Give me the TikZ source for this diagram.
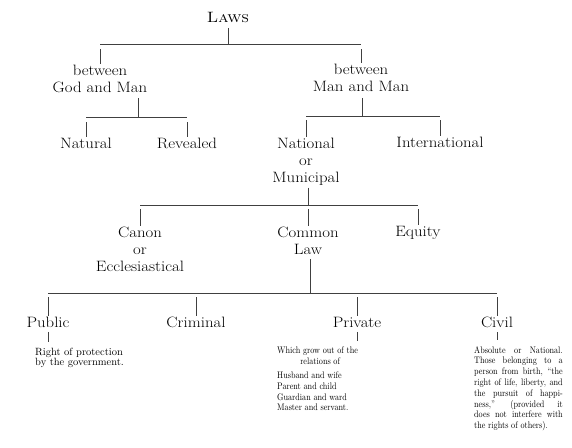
\documentclass[tikz,border=0pt]{standalone}
\usepackage{amsmath}

\tikzset{%
  lbl/.style={font=\fontsize{15}{17}\selectfont, align=center, inner sep=1pt,
    xscale=1.12, transform shape, anchor=north},
  note/.style={font=\fontsize{9.5}{10.8}\selectfont, inner sep=0pt, anchor=north west,
    xscale=0.86, transform shape},
  rule/.style={line width=0.5pt, black!75},
}

\begin{document}
\begin{tikzpicture}[x=1pt,y=-1pt]%
\useasboundingbox (0,0) rectangle (572,447);%
% the heads
\node[lbl] (laws) at (228,11) {\textsc{Laws}};
\node[lbl] (godman) at (100,64) {between\\God and Man};
\node[lbl] (manman) at (361,63) {between\\Man and Man};
\node[lbl] (natural) at (86,137) {Natural};
\node[lbl] (revealed) at (187,137) {Revealed};
\node[lbl] (national) at (306,137) {National\\or\\Municipal};
\node[lbl] (internat) at (440,136) {International};
\node[lbl] (canon) at (140,226) {Canon\\or\\Ecclesiastical};
\node[lbl] (common) at (308,226) {Common\\Law};
\node[lbl] (equity) at (418,225) {Equity};
\node[lbl] (public) at (48,316) {Public};
\node[lbl] (criminal) at (196,316) {Criminal};
\node[lbl] (private) at (357,316) {Private};
\node[lbl] (civil) at (497,316) {Civil};
% the notes
\node[note, font=\fontsize{10.5}{10}\selectfont, xscale=1/0.86, text width=95pt, align=left]
  (pubnote) at (35,348) {Right of protection\\by the government.};
\node[note, text width=100pt, align=left] (privnote) at (277,347)
  {Which grow out of the\\\makebox[100pt]{relations of}\\[3pt]Husband and wife\\Parent and child\\Guardian and ward\\Master and servant.};
\node[note, text width=103pt, align=justify] (civnote) at (474,346)
  {Absolute or National.\linebreak Those belonging to a\linebreak person from birth, ``the\linebreak right of life, liberty, and\linebreak the pursuit of happi-\linebreak ness,'' (provided it\linebreak does not interfere with\linebreak the rights of others).};
% the rules
\coordinate (bar1) at (228,44);
\coordinate (bar2) at (138,117);
\coordinate (bar3) at (362,116);
\coordinate (bar4) at (308,205);
\coordinate (bar5) at (310,293);
\draw[rule, shorten <=4pt] (laws.south) -- (bar1);
\draw[rule] (godman |- bar1) -- (manman |- bar1);
\foreach \n in {godman,manman} \draw[rule, shorten <=5pt] (\n |- bar1) -- (\n.north);
\draw[rule, shorten <=4pt] (godman.south -| bar2) -- (bar2);
\draw[rule] (natural |- bar2) -- (revealed |- bar2);
\foreach \n in {natural,revealed} \draw[rule, shorten <=5pt] (\n |- bar2) -- (\n.north);
\draw[rule, shorten <=5pt] (manman.south -| bar3) -- (bar3);
\draw[rule] (national |- bar3) -- (internat |- bar3);
\foreach \n in {national,internat} \draw[rule, shorten <=4pt] (\n |- bar3) -- (\n.north);
\draw[rule, shorten <=1pt] (national.south -| bar4) -- (bar4);
\draw[rule] (canon |- bar4) -- (equity |- bar4);
\foreach \n in {canon,common,equity} \draw[rule, shorten <=4pt] (\n |- bar4) -- (\n.north);
\draw[rule, shorten <=3pt] (common.south -| bar5) -- (bar5);
\draw[rule] (public |- bar5) -- (civil |- bar5);
\foreach \n in {public,criminal,private,civil} \draw[rule, shorten <=4pt] (\n |- bar5) -- (\n.north);
\draw[rule, shorten <=3pt, shorten >=6pt] (public.south) -- (pubnote.north -| public);
\draw[rule, shorten <=3pt, shorten >=6pt] (private.south) -- (privnote.north -| private);
\draw[rule, shorten <=3pt, shorten >=6pt] (civil.south) -- (civnote.north -| civil);
\end{tikzpicture}
\end{document}
